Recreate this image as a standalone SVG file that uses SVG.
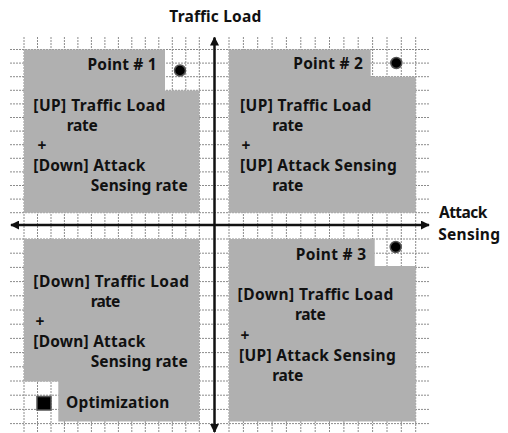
<svg xmlns="http://www.w3.org/2000/svg" width="508" height="433" viewBox="0 0 508 433">
<style>
.grid{stroke:#8c8c8c;stroke-width:1;stroke-dasharray:2 1;fill:none}
.q{fill:#b0b0b0}
.t{font-family:"Noto Sans","Open Sans","DejaVu Sans",sans-serif;font-weight:700;font-size:15.5px;fill:#111}
.axis{stroke:#111;stroke-width:2.5;fill:none}
.dot{fill:#000;stroke:#555;stroke-width:1.5}
</style>
<defs>
<marker id="ah" viewBox="0 0 10 10" refX="9" refY="5" markerUnits="userSpaceOnUse" markerWidth="9" markerHeight="9" orient="auto">
<path d="M0,0 L10,5 L0,10 Z" fill="#111"/>
</marker>
</defs>
<rect width="508" height="433" fill="#fff"/>
<g id="grid" class="grid">
<path d="M10,49.5H429M10,63.1H429M10,76.7H429M10,90.3H429M10,103.9H429M10,117.5H429M10,131.1H429M10,144.7H429M10,158.3H429M10,171.9H429M10,185.5H429M10,199.1H429M10,212.7H429M10,239H429M10,253.2H429M10,267.4H429M10,281.6H429M10,295.8H429M10,310H429M10,324.2H429M10,338.4H429M10,352.6H429M10,366.8H429M10,381H429M10,395.2H429M10,409.4H429M10,423.6H429"/>
<path d="M24,37V433M37.5,37V433M51,37V433M64.4,37V433M77.9,37V433M91.4,37V433M104.9,37V433M118.4,37V433M131.8,37V433M145.3,37V433M158.8,37V433M172.3,37V433M185.8,37V433M199.3,37V433M229,37V433M243.4,37V433M257.7,37V433M272.1,37V433M286.4,37V433M300.8,37V433M315.2,37V433M329.5,37V433M343.9,37V433M358.2,37V433M372.6,37V433M387,37V433M401.3,37V433M415.7,37V433"/>
</g>
<g id="point1">
<path class="q" d="M24,49.5H165V90.5H199.3V212.7H24Z"/>
<circle class="dot" cx="180" cy="70.5" r="5.5"/>
<text class="t" x="87.5" y="70" textLength="69">Point # 1</text>
<text class="t" x="33.3" y="110.5" textLength="132">[UP] Traffic Load</text>
<text class="t" x="66.7" y="130.5" textLength="31">rate</text>
<text class="t" x="37.5" y="150.5">+</text>
<text class="t" x="33.3" y="170.7" textLength="112">[Down] Attack</text>
<text class="t" x="90.7" y="190.7" textLength="97">Sensing rate</text>
</g>
<g id="point2">
<path class="q" d="M229,49.5H370.7V76.7H415.7V212.7H229Z"/>
<circle class="dot" cx="396.3" cy="63" r="5.5"/>
<text class="t" x="293.3" y="69.3" textLength="69.5">Point # 2</text>
<text class="t" x="240" y="110.5" textLength="131.3">[UP] Traffic Load</text>
<text class="t" x="272.3" y="130.5" textLength="31">rate</text>
<text class="t" x="241.5" y="150.5">+</text>
<text class="t" x="240" y="170.5" textLength="156.7">[UP] Attack Sensing</text>
<text class="t" x="272.3" y="190.5" textLength="31">rate</text>
</g>
<g id="optimization">
<path class="q" d="M24,239H199.3V421.5H58.3V381.5H24Z"/>
<rect x="37" y="396.5" width="14" height="13.5" fill="#000" stroke="#555" stroke-width="1.5"/>
<text class="t" x="33.3" y="286.7" textLength="155.7">[Down] Traffic Load</text>
<text class="t" x="90.7" y="306.7" textLength="29.5">rate</text>
<text class="t" x="35.5" y="327">+</text>
<text class="t" x="33.3" y="347.3" textLength="112">[Down] Attack</text>
<text class="t" x="90.7" y="366.7" textLength="97">Sensing rate</text>
<text class="t" x="66" y="408.3" textLength="103.3">Optimization</text>
</g>
<g id="point3">
<path class="q" d="M229,239H374.7V266H415.7V421.5H229Z"/>
<circle class="dot" cx="395.7" cy="247" r="5.5"/>
<text class="t" x="295.7" y="260" textLength="70.5">Point # 3</text>
<text class="t" x="237.6" y="300" textLength="155.7">[Down] Traffic Load</text>
<text class="t" x="295" y="320" textLength="30.7">rate</text>
<text class="t" x="240.5" y="341">+</text>
<text class="t" x="239" y="361" textLength="156.7">[UP] Attack Sensing</text>
<text class="t" x="272.3" y="381" textLength="31">rate</text>
</g>
<g id="connectors">
<line class="axis" x1="214.5" y1="225" x2="214.5" y2="37.5" marker-end="url(#ah)"/>
<line class="axis" x1="214.5" y1="225" x2="214.5" y2="432" marker-end="url(#ah)"/>
<line class="axis" x1="214.5" y1="225" x2="11" y2="225" marker-end="url(#ah)"/>
<line class="axis" x1="214.5" y1="225" x2="429" y2="225" marker-end="url(#ah)"/>
</g>
<g id="labels">
<text class="t" x="169.3" y="21.7" textLength="92">Traffic Load</text>
<text class="t" x="439" y="218" textLength="48.3">Attack</text>
<text class="t" x="438.3" y="240" textLength="61.7">Sensing</text>
</g>
</svg>
